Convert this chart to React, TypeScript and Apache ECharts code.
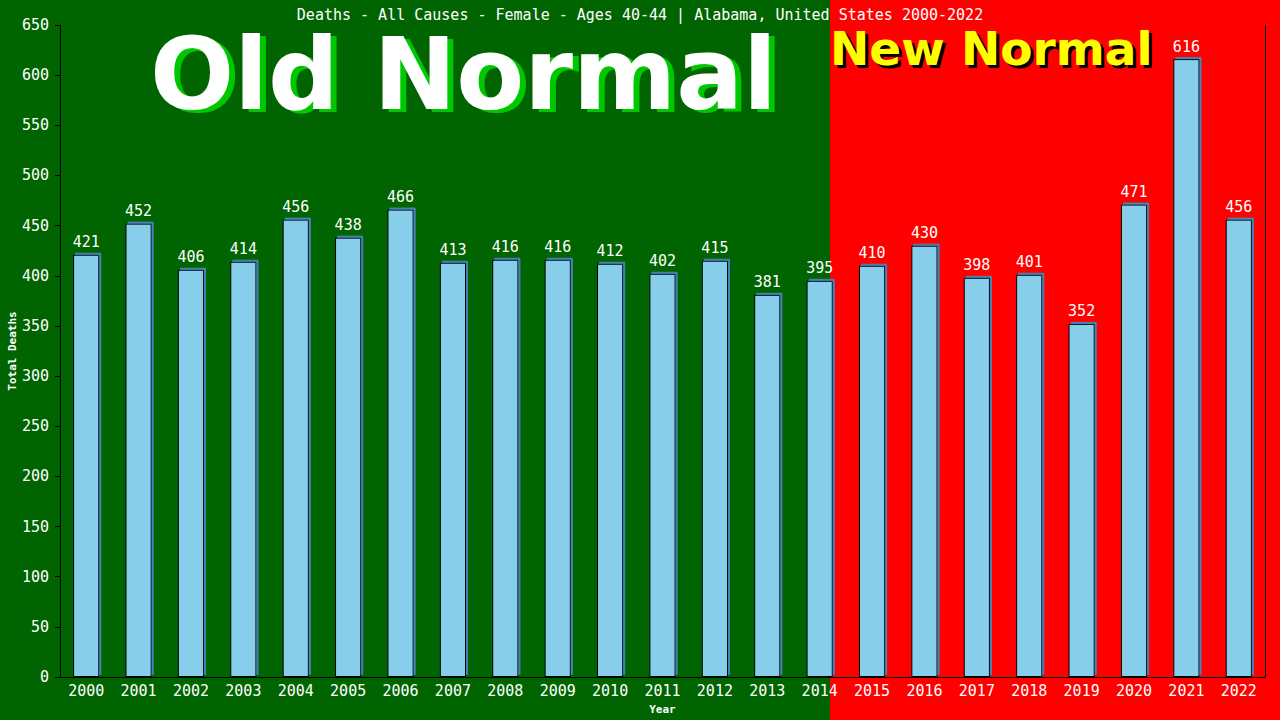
import React, { useEffect, useRef } from "react";
import * as echarts from "echarts";

const years = ["2000","2001","2002","2003","2004","2005","2006","2007","2008","2009","2010","2011","2012","2013","2014","2015","2016","2017","2018","2019","2020","2021","2022"];
const deaths = [421,452,406,414,456,438,466,413,416,416,412,402,415,381,395,410,430,398,401,352,471,616,456];
const titleText = "Deaths - All Causes - Female - Ages 40-44 | Alabama, United States 2000-2022";
const yTicks = { min: 0, max: 650, interval: 50 };

const MONO = "'DejaVu Sans Mono', 'Liberation Mono', monospace";
const BIG = "'DejaVu Sans', Verdana, sans-serif";

export default function App() {
  const ref = useRef<HTMLDivElement>(null);
  useEffect(() => {
    if (!ref.current) return;
    const chart = echarts.init(ref.current, undefined, { renderer: "svg" });
    chart.setOption({
      animation: false,
      backgroundColor: "#006400",
      title: {
        text: titleText,
        left: "center",
        top: 2,
        textStyle: { color: "#ffffff", fontFamily: MONO, fontSize: 15, fontWeight: "normal" },
      },
      graphic: [
        { type: "rect", z: -10, shape: { x: 0, y: 0, width: 830, height: 720 }, style: { fill: "#006400" }, silent: true },
        { type: "rect", z: -10, shape: { x: 830, y: 0, width: 450, height: 720 }, style: { fill: "#ff0000" }, silent: true },
        { type: "text", z: -5, x: 156, y: 127, style: { text: "Old Normal", fill: "#00c800", font: `bold 99px ${BIG}`, verticalAlign: "bottom" }, silent: true },
        { type: "text", z: -4, x: 150, y: 124, style: { text: "Old Normal", fill: "#ffffff", font: `bold 99px ${BIG}`, verticalAlign: "bottom" }, silent: true },
        { type: "text", z: -5, x: 833, y: 75, style: { text: "New Normal", fill: "#000000", font: `bold 47px ${BIG}`, verticalAlign: "bottom" }, silent: true },
        { type: "text", z: -4, x: 830, y: 72, style: { text: "New Normal", fill: "#ffff00", font: `bold 47px ${BIG}`, verticalAlign: "bottom" }, silent: true },
      ],
      grid: { left: 60, right: 15, top: 25, bottom: 43, containLabel: false, outerBoundsMode: "none" },
      xAxis: {
        type: "category",
        data: years,
        name: "Year",
        nameLocation: "middle",
        nameGap: 27,
        nameMoveOverlap: false,
        nameTextStyle: { color: "#ffffff", fontFamily: MONO, fontSize: 11, fontWeight: "bold" },
        axisLine: { show: true, lineStyle: { color: "#000000", width: 1 } },
        axisTick: { show: false },
        axisLabel: { color: "#ffffff", fontFamily: MONO, fontSize: 15, margin: 6, interval: 0 },
        splitLine: { show: false },
      },
      yAxis: [
        {
          type: "value",
          min: yTicks.min,
          max: yTicks.max,
          interval: yTicks.interval,
          name: "Total Deaths",
          nameLocation: "middle",
          nameGap: 42,
          nameMoveOverlap: false,
          nameTextStyle: { color: "#ffffff", fontFamily: MONO, fontSize: 11, fontWeight: "bold" },
          axisLine: { show: true, lineStyle: { color: "#000000", width: 1 } },
          axisTick: { show: true, length: 5, lineStyle: { color: "#000000" } },
          axisLabel: { color: "#ffffff", fontFamily: MONO, fontSize: 15, margin: 11 },
          splitLine: { show: false },
        },
        {
          type: "value",
          position: "right",
          min: yTicks.min,
          max: yTicks.max,
          interval: yTicks.interval,
          axisLine: { show: true, lineStyle: { color: "#000000", width: 1 } },
          axisTick: { show: false },
          axisLabel: { show: false },
          splitLine: { show: false },
        },
      ],
      series: [
        {
          type: "bar",
          data: deaths,
          barWidth: "50%",
          itemStyle: {
            color: "#87ceeb",
            borderColor: "#000000",
            borderWidth: 1,
            shadowColor: "#4682b4",
            shadowOffsetX: 2,
            shadowOffsetY: -2,
            shadowBlur: 0,
          },
          label: {
            show: true,
            position: "top",
            distance: 5,
            color: "#ffffff",
            fontFamily: MONO,
            fontSize: 15,
          },
        },
      ],
    });
    return () => chart.dispose();
  }, []);
  return <div ref={ref} style={{ position: "fixed", left: 0, top: 0, width: 1280, height: 720 }} />;
}
